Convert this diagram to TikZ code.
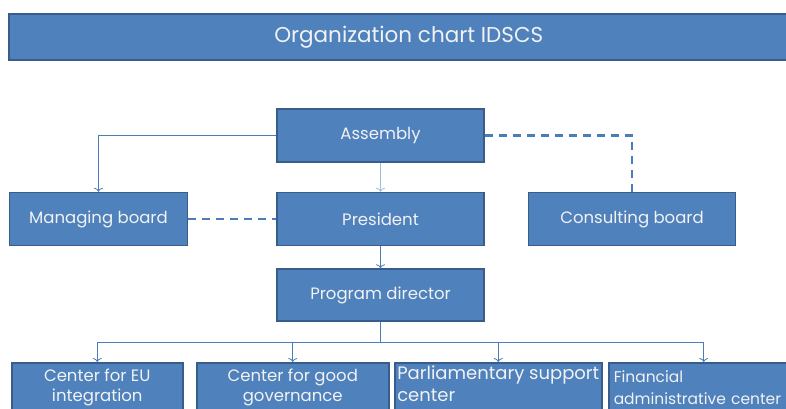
\documentclass[tikz,border=0pt]{standalone}
\usepackage{fontspec}
\setmainfont{Poppins}
\usepackage{tikz}
\usetikzlibrary{shapes,arrows,arrows.meta,positioning,fit,backgrounds,calc}
\definecolor{boxblue}{RGB}{79, 129, 189}
\definecolor{boxline}{RGB}{56, 93, 138}
\definecolor{linkblue}{RGB}{74, 126, 187}
\definecolor{paleblue}{RGB}{160, 188, 224}
\definecolor{boxtext}{RGB}{242, 242, 242}
\tikzstyle{unit} = [rectangle, draw=boxline, line width=1.5pt, fill=boxblue, text=boxtext, text centered, font=\fontsize{16.5}{20}\selectfont, minimum width=207pt, minimum height=53pt, inner sep=2pt]
\tikzstyle{center} = [unit, anchor=north west, minimum height=50pt, align=center]
\tikzstyle{tedge}  = [draw=linkblue, line width=0.8pt, -{To[length=4pt,width=9pt]}]
\tikzstyle{dedge}  = [draw=linkblue, line width=2.5pt, dash pattern=on 8pt off 6pt]

\begin{document}
\begin{tikzpicture}[x=1pt, y=-1pt]
\useasboundingbox (0,0) rectangle (786,408);
\clip (0,0) rectangle (786,408);

% title ==================================
\node[unit, anchor=north west, minimum width=800pt, minimum height=46pt, font=\fontsize{21.5}{24}\selectfont] (title) at (8,13) {Organization chart IDSCS};

% board and management ===================
\node[unit] (asm) at (380.5,135.5) {Assembly};
\node[unit, below=29pt of asm] (pres) {President};
\node[unit, minimum width=178pt, left=88pt of pres] (mboard) {Managing board};
\node[unit, right=43pt of pres] (cboard) {Consulting board};
\node[unit, minimum height=52pt, below=22pt of pres] (pdir) {Program director};

% centers ================================
\node[center, minimum width=171pt] (ceu) at (11,362) {Center for EU\\integration};
\node[center, minimum width=192pt] (cgov) at (196,362) {Center for good\\governance};
\node[center, minimum width=207pt, align=left, font=\fontsize{18}{22}\selectfont] (cparl) at (394,362) {Parliamentary support\\center\\[-14pt]};
\node[center, minimum width=190pt, align=left, text width=180pt, font=\fontsize{15.5}{22}\selectfont] (cfin) at (608,362) {Financial\\administrative center\\[-9pt]};

% bus
\coordinate (bus) at ($(pdir.south)+(0,21)$);

%edges
\path[tedge] (asm.west) -| (mboard.north);
\path[tedge, draw=paleblue] (asm) -- (pres);
\path[dedge] (asm.east) -| (cboard.north);
\path[dedge] (mboard) -- (pres);
\path[tedge] (pres) -- (pdir);

\path[draw=linkblue, line width=0.8pt] (pdir.south) -- (bus);
\path[tedge] (bus) -| (ceu.north);
\path[tedge] (bus) -| (cgov.north);
\path[tedge] (bus) -| (cparl.north);
\path[tedge] (bus) -| (cfin.north);

\end{tikzpicture}
\end{document}
